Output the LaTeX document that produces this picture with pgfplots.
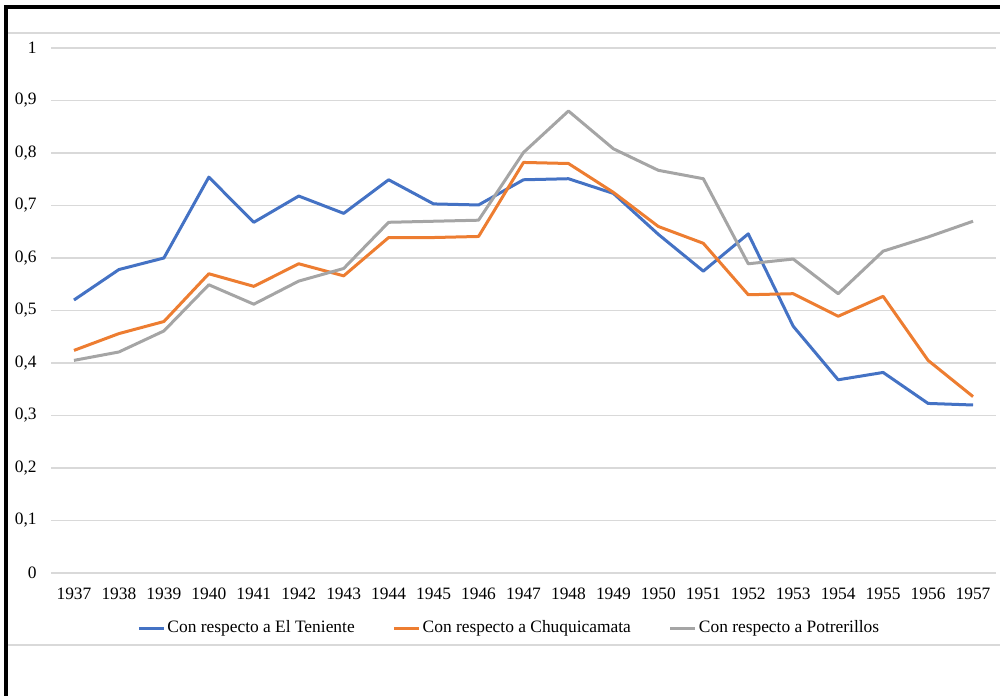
\documentclass[border=0pt]{standalone}
\usepackage{pgfplots}
\pgfplotsset{compat=1.18}
\usepackage{fontspec}
\setmainfont{Liberation Serif}
\definecolor{cblue}{HTML}{4472C4}
\definecolor{corange}{HTML}{ED7D31}
\definecolor{cgray}{HTML}{A5A5A5}
\definecolor{gridgray}{HTML}{D9D9D9}
\begin{document}
\fontsize{8.7}{10}\selectfont
\begin{tikzpicture}
\useasboundingbox (-25.75pt,-61.5pt) rectangle (474.25pt,286.5pt);
\begin{axis}[
  at={(0pt,0pt)}, anchor=south west,
  scale only axis, width=472pt, height=262.5pt,
  xmin=1936.5, xmax=1957.5, ymin=0, ymax=1,
  xtick={1937,1938,...,1957},
  ytick={0,0.1,0.2,0.3,0.4,0.5,0.6,0.7,0.8,0.9,1},
  /pgf/number format/.cd, use comma, 1000 sep={}, assume math mode=true,
  /pgfplots/.cd,
  axis line style={draw=none},
  major tick length=0pt,
  tick style={draw=none},
  ymajorgrids, grid style={color=gridgray, line width=0.75pt},
  yticklabel style={anchor=east, inner sep=0pt, xshift=-7.25pt},
  xticklabel style={anchor=north, inner sep=0pt, yshift=-7.5pt},
  legend style={draw=none, fill=none, at={(0.485,-0.105)}, anchor=center,
    legend columns=3, nodes={inner sep=1pt},
    /tikz/every even column/.append style={column sep=18pt}},
  legend image code/.code={\draw[#1] (0pt,0pt) -- (12.5pt,0pt);},
  every axis plot/.append style={line width=1.5pt, line join=round, no marks},
]
\addplot[cblue] coordinates {
(1937,0.520) (1938,0.578) (1939,0.600) (1940,0.754) (1941,0.668) (1942,0.718)
(1943,0.685) (1944,0.749) (1945,0.703) (1946,0.701) (1947,0.749) (1948,0.751)
(1949,0.723) (1950,0.645) (1951,0.575) (1952,0.646) (1953,0.470) (1954,0.368)
(1955,0.382) (1956,0.323) (1957,0.320)};
\addlegendentry{Con respecto a El Teniente}
\addplot[corange] coordinates {
(1937,0.424) (1938,0.456) (1939,0.479) (1940,0.570) (1941,0.546) (1942,0.589)
(1943,0.566) (1944,0.639) (1945,0.639) (1946,0.641) (1947,0.782) (1948,0.780)
(1949,0.725) (1950,0.660) (1951,0.628) (1952,0.530) (1953,0.532) (1954,0.489)
(1955,0.527) (1956,0.405) (1957,0.336)};
\addlegendentry{Con respecto a Chuquicamata}
\addplot[cgray] coordinates {
(1937,0.405) (1938,0.421) (1939,0.461) (1940,0.549) (1941,0.512) (1942,0.556)
(1943,0.580) (1944,0.668) (1945,0.670) (1946,0.672) (1947,0.801) (1948,0.880)
(1949,0.808) (1950,0.767) (1951,0.751) (1952,0.589) (1953,0.598) (1954,0.532)
(1955,0.613) (1956,0.640) (1957,0.670)};
\addlegendentry{Con respecto a Potrerillos}
\end{axis}
\draw[gridgray, line width=0.75pt] (-21.75pt,270pt) -- (474.25pt,270pt);
\draw[gridgray, line width=0.75pt] (-21.75pt,-36pt) -- (474.25pt,-36pt);
\draw[black, line width=2pt] (-22.75pt,283pt) -- (-22.75pt,-61.5pt);
\draw[black, line width=2pt] (-23.75pt,283pt) -- (474.25pt,283pt);
\end{tikzpicture}
\end{document}
